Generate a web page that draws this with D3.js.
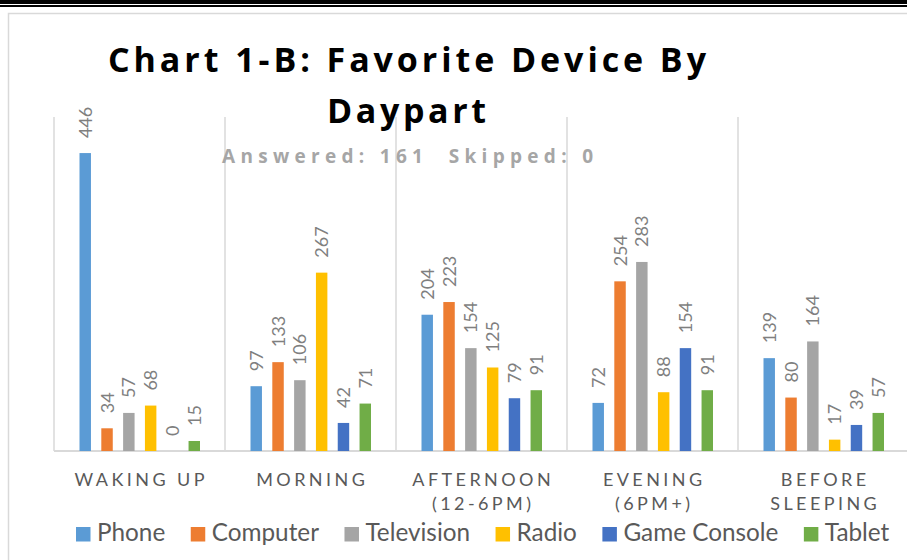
<!DOCTYPE html>
<html>
<head>
<meta charset="utf-8">
<script src="https://cdn.jsdelivr.net/npm/d3@7"></script>
<style>
  html, body { margin: 0; padding: 0; background: #fff; }
  svg { display: block; font-family: Lato, "Open Sans", sans-serif; }
  .ttl { font-family: "Open Sans", Lato, sans-serif; font-weight: bold; }
</style>
</head>
<body>
<div id="chart"></div>
<script>
// Data
var dayparts = ["Waking up", "Morning", "Afternoon (12-6PM)", "Evening (6PM+)", "Before sleeping"];
var daypartLines = [["WAKING UP"], ["MORNING"], ["AFTERNOON", "(12-6PM)"], ["EVENING", "(6PM+)"], ["BEFORE", "SLEEPING"]];
var devices = ["Phone", "Computer", "Television", "Radio", "Game Console", "Tablet"];
var colors = ["#5b9bd5", "#ed7d31", "#a5a5a5", "#ffc000", "#4472c4", "#70ad47"];
var phone       = [446, 97, 204, 72, 139];
var computer    = [34, 133, 223, 254, 80];
var television  = [57, 106, 154, 283, 164];
var radio       = [68, 267, 125, 88, 17];
var gameConsole = [0, 42, 79, 154, 39];
var tablet      = [15, 71, 91, 91, 57];
var series = [phone, computer, television, radio, gameConsole, tablet];

var W = 907, H = 560;
var svg = d3.select("#chart").append("svg")
    .attr("width", W)
    .attr("height", H);

// page rules at top + chart frame
svg.append("rect").attr("x", 0).attr("y", 0).attr("width", W).attr("height", 4).attr("fill", "#000");
svg.append("rect").attr("x", 0).attr("y", 5).attr("width", W).attr("height", 2).attr("fill", "#000");
svg.append("rect")
    .attr("x", 8.5).attr("y", 13.5).attr("width", W + 20).attr("height", H)
    .attr("fill", "none").attr("stroke", "#d9d9d9").attr("stroke-width", 1.5);

// scales
var plotLeft = 54, plotRight = 909, plotTop = 117, plotBottom = 451;
var x0 = d3.scaleBand().domain(dayparts).range([plotLeft, plotRight]).padding(0);
var x1 = d3.scaleBand().domain(devices).range([25.5, 146]).paddingInner(0.475).paddingOuter(0);
var y = d3.scaleLinear().domain([0, 500]).range([plotBottom, plotTop]);

// vertical gridlines at category boundaries
var bounds = dayparts.map(function(d){ return x0(d); }).concat([x0(dayparts[dayparts.length-1]) + x0.bandwidth()]);
svg.append("g").selectAll("line")
  .data(bounds)
  .enter().append("line")
    .attr("x1", function(d){ return d; })
    .attr("x2", function(d){ return d; })
    .attr("y1", plotTop)
    .attr("y2", plotBottom)
    .attr("stroke", "#d9d9d9")
    .attr("stroke-width", 1.5);

// baseline
svg.append("line")
    .attr("x1", plotLeft).attr("x2", W)
    .attr("y1", plotBottom).attr("y2", plotBottom)
    .attr("stroke", "#d9d9d9").attr("stroke-width", 2);

// bars
var groups = svg.append("g").selectAll("g")
  .data(dayparts)
  .enter().append("g")
    .attr("transform", function(d){ return "translate(" + x0(d) + ",0)"; });

groups.selectAll("rect")
  .data(function(d, i){ return devices.map(function(dev, j){ return {dev: dev, j: j, v: series[j][i]}; }); })
  .enter().append("rect")
    .attr("x", function(d){ return x1(d.dev); })
    .attr("y", function(d){ return y(d.v); })
    .attr("width", x1.bandwidth())
    .attr("height", function(d){ return y(0) - y(d.v); })
    .attr("fill", function(d){ return colors[d.j]; });

// value labels (rotated)
groups.selectAll("text")
  .data(function(d, i){ return devices.map(function(dev, j){ return {dev: dev, j: j, v: series[j][i]}; }); })
  .enter().append("text")
    .attr("transform", function(d){
      return "translate(" + (x1(d.dev) + x1.bandwidth()/2) + "," + (y(d.v) - 15) + ") rotate(-90)";
    })
    .attr("dy", "0.36em")
    .attr("text-anchor", "start")
    .attr("font-size", 18)
    .attr("fill", "#7f7f7f")
    .text(function(d){ return d.v; });

// helper: spread letters so text covers a given width
function spread(sel, target) {
  var node = sel.node();
  var n = sel.text().length;
  var w = node.getComputedTextLength();
  var ls = (target - w) / (n - 1);
  sel.attr("letter-spacing", ls);
  return ls;
}

// category labels
var catG = svg.append("g");
var probe = catG.append("text").attr("font-size", 18).text("WAKING UP");
var catLs = spread(probe, 130);
probe.remove();
daypartLines.forEach(function(lines, i){
  var cx = x0(dayparts[i]) + x0.bandwidth()/2;
  lines.forEach(function(line, k){
    catG.append("text")
      .attr("x", cx + catLs/2)
      .attr("y", 486 + k * 24)
      .attr("text-anchor", "middle")
      .attr("font-size", 18)
      .attr("letter-spacing", catLs)
      .attr("fill", "#595959")
      .text(line);
  });
});

// title
var t1 = svg.append("text").attr("class", "ttl").attr("x", 108).attr("y", 72)
    .attr("font-size", 34).attr("fill", "#000")
    .text("Chart 1-B: Favorite Device By");
spread(t1, 598);
var t2 = svg.append("text").attr("class", "ttl").attr("x", 327).attr("y", 123)
    .attr("font-size", 34).attr("fill", "#000")
    .text("Daypart");
spread(t2, 159);
var sub = svg.append("text").attr("class", "ttl").attr("x", 222).attr("y", 163)
    .attr("font-size", 19).attr("fill", "#a6a6a6")
    .style("white-space", "pre")
    .text("Answered: 161  Skipped: 0");
spread(sub, 371);

// legend
var legend = svg.append("g");
var lp = legend.append("text").attr("font-size", 20).text("Game Console");
var legFont = 20 * 155 / lp.node().getComputedTextLength();
lp.remove();
var lx = 76;
devices.forEach(function(dev, j){
  legend.append("rect")
    .attr("x", lx).attr("y", 527)
    .attr("width", 14.5).attr("height", 14.5)
    .attr("fill", colors[j]);
  var t = legend.append("text")
    .attr("x", lx + 21).attr("y", 541)
    .attr("font-size", legFont)
    .attr("fill", "#595959")
    .text(dev);
  lx += 21 + t.node().getComputedTextLength() + 25.5;
});
</script>
</body>
</html>
